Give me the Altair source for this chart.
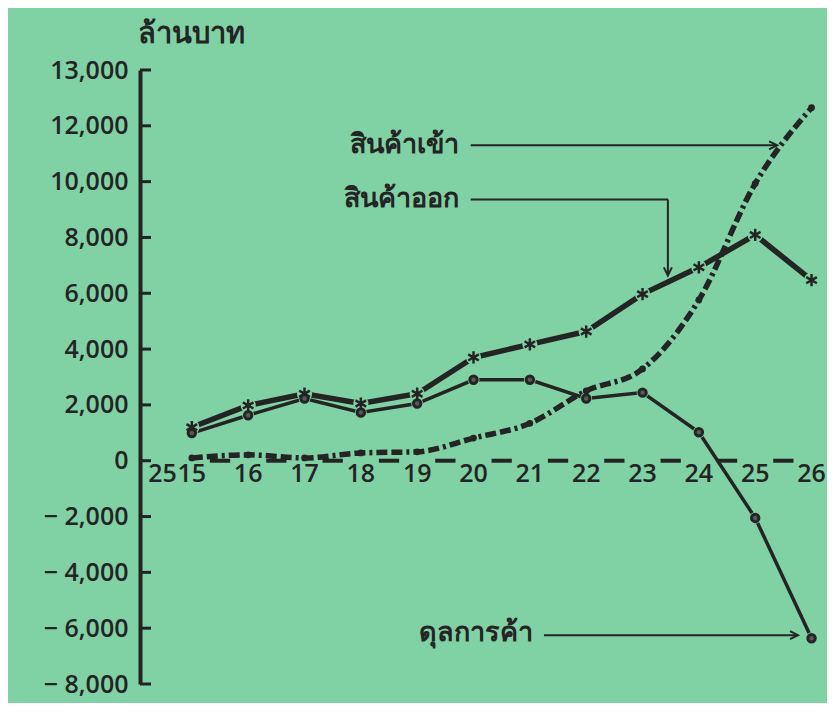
import altair as alt
import pandas as pd

# ---- data (million baht) ----
years = [2515, 2516, 2517, 2518, 2519, 2520, 2521, 2522, 2523, 2524, 2525, 2526]
year_labels = ["15", "16", "17", "18", "19", "20", "21", "22", "23", "24", "25", "26"]
exports = [1200, 1980, 2400, 2050, 2400, 3700, 4170, 4630, 5970, 6930, 8090, 6470]
imports = [100, 210, 100, 280, 320, 810, 1340, 2500, 3290, 5760, 9930, 12650]
balance = [990, 1630, 2230, 1730, 2050, 2900, 2900, 2230, 2440, 1020, -2050, -6360]

y_ticks = [14000, 12000, 10000, 8000, 6000, 4000, 2000, 0, -2000, -4000, -6000, -8000]
y_tick_labels = ["13,000", "12,000", "10,000", "8,000", "6,000", "4,000", "2,000", "0",
                 "\u2212 2,000", "\u2212 4,000", "\u2212 6,000", "\u2212 8,000"]

# annotations
ann_text = ["สินค้าเข้า", "สินค้าออก", "ดุลการค้า"]
ann_text_x = [2519.75, 2519.75, 2521.05]
ann_text_y = [11300, 9360, -6180]
ann_line_x1 = [2519.95, 2519.95, 2521.25, 2523.45]
ann_line_x2 = [2525.39, 2523.45, 2525.76, 2523.45]
ann_line_y1 = [11300, 9360, -6250, 9360]
ann_line_y2 = [11300, 9360, -6250, 6640]
arrow_right_x = [2525.39, 2525.76]
arrow_right_y = [11300, -6250]
arrow_down_x = [2523.45]
arrow_down_y = [6640]

BG = "#80d2a5"
INK = "#242424"
NUM_FONT = "Open Sans"
THAI_FONT = "Noto Sans"

df = pd.DataFrame({"year": years, "lab": year_labels, "exports": exports,
                   "imports": imports, "balance": balance})
df["zero"] = 0
dash_df = pd.DataFrame({"x1": [y + 0.32 for y in years[:-1]],
                        "x2": [y + 0.68 for y in years[:-1]]})
dash_df["zero"] = 0
tick_df = pd.DataFrame({"v": y_ticks})
text_df = pd.DataFrame({"t": ann_text, "x": ann_text_x, "y": ann_text_y})
line_df = pd.DataFrame({"x1": ann_line_x1, "x2": ann_line_x2, "y1": ann_line_y1, "y2": ann_line_y2})
ar_df = pd.DataFrame({"x": arrow_right_x, "y": arrow_right_y})
ad_df = pd.DataFrame({"x": arrow_down_x, "y": arrow_down_y})

xs = alt.Scale(domain=[2514.08, 2526.15], nice=False, zero=False)
ys = alt.Scale(domain=[-8000, 14000], nice=False, zero=False)

expr = "''"
for v, l in zip(reversed(y_ticks), reversed(y_tick_labels)):
    expr = f"datum.value == {v} ? '{l}' : ({expr})"

yaxis = alt.Axis(values=y_ticks, labelExpr=expr, ticks=False, grid=False,
                 domainWidth=4, domainColor=INK, labelFont=NUM_FONT, labelFontSize=25,
                 labelFontWeight=600, labelColor=INK, labelPadding=12, labelFlush=False,
                 labelOverlap=False, title="ล้านบาท", titleAngle=0, titleX=-3, titleY=-37,
                 titleAlign="left", titleBaseline="middle", titleFont=THAI_FONT,
                 titleFontSize=29, titleFontWeight="bold", titleColor=INK)


def X(f):
    return alt.X(f, scale=xs, axis=None)


def Y(f):
    return alt.Y(f, scale=ys, axis=yaxis)


zero_dash = alt.Chart(dash_df).mark_rule(strokeWidth=4, color=INK).encode(
    x=X("x1:Q"), x2="x2:Q", y=Y("zero:Q"))

ticks = alt.Chart(tick_df).mark_rule(strokeWidth=3, color=INK).encode(
    y=Y("v:Q"), x=alt.value(0), x2=alt.value(11))

xlabels = alt.Chart(df).mark_text(dy=13, font=NUM_FONT, fontSize=25, fontWeight=600,
                                  color=INK).encode(x=X("year:Q"), y=Y("zero:Q"), text="lab:N")
prefix = alt.Chart(df).transform_filter("datum.year == 2515").mark_text(
    dy=13, dx=-15, align="right", font=NUM_FONT, fontSize=25, fontWeight=600, color=INK
).encode(x=X("year:Q"), y=Y("zero:Q"), text=alt.value("25"))

imp_line = alt.Chart(df).mark_line(interpolate="monotone", strokeWidth=5.5, color=INK,
                                   strokeDash=[11, 4, 11, 4, 3, 4]).encode(
    x=X("year:Q"), y=Y("imports:Q"))
exp_line = alt.Chart(df).mark_line(strokeWidth=5.5, color=INK).encode(
    x=X("year:Q"), y=Y("exports:Q"))
bal_line = alt.Chart(df).mark_line(strokeWidth=3.5, color=INK).encode(
    x=X("year:Q"), y=Y("balance:Q"))

exp_halo = alt.Chart(df).mark_point(filled=True, color=BG, opacity=1, size=230).encode(
    x=X("year:Q"), y=Y("exports:Q"))
bal_halo = alt.Chart(df).mark_point(filled=True, color=BG, opacity=1, size=140).encode(
    x=X("year:Q"), y=Y("balance:Q"))

imp_pts = alt.Chart(df).mark_point(filled=True, color=INK, opacity=1, size=45).encode(
    x=X("year:Q"), y=Y("imports:Q"))
ASTER = "M 0 -1 L 0 1 M -0.87 -0.5 L 0.87 0.5 M -0.87 0.5 L 0.87 -0.5"
exp_pts = alt.Chart(df).mark_point(shape=ASTER, filled=False, color=INK, opacity=1,
                                   strokeWidth=2.5, size=150).encode(
    x=X("year:Q"), y=Y("exports:Q"))
bal_pts = alt.Chart(df).mark_point(shape="circle", filled=False, stroke=INK, fill="#5a5a5a",
                                   fillOpacity=1, opacity=1, strokeWidth=3, size=55).encode(
    x=X("year:Q"), y=Y("balance:Q"))

ann_lines = alt.Chart(line_df).mark_rule(strokeWidth=2, color=INK).encode(
    x=X("x1:Q"), x2="x2:Q", y=Y("y1:Q"), y2="y2:Q")
arr_r = alt.Chart(ar_df).mark_point(shape="M -1 -0.5 L 0 0 L -1 0.5", filled=False,
                                    color=INK, opacity=1, strokeWidth=2, size=260).encode(
    x=X("x:Q"), y=Y("y:Q"))
arr_d = alt.Chart(ad_df).mark_point(shape="M -0.5 -1 L 0 0 L 0.5 -1", filled=False,
                                    color=INK, opacity=1, strokeWidth=2, size=260).encode(
    x=X("x:Q"), y=Y("y:Q"))
ann_texts = alt.Chart(text_df).mark_text(align="right", baseline="middle", font=THAI_FONT,
                                         fontSize=27, fontWeight="bold", color=INK).encode(
    x=X("x:Q"), y=Y("y:Q"), text="t:N")

chart = alt.layer(
    zero_dash, ticks, xlabels, prefix, imp_line, exp_line, bal_line,
    exp_halo, bal_halo, imp_pts, exp_pts, bal_pts, ann_lines, arr_r, arr_d, ann_texts
).properties(
    width=680, height=614,
    autosize=alt.AutoSizeParams(type="none"),
    padding={"left": 132, "top": 62, "right": 7, "bottom": 19},
    background=BG,
).configure_view(stroke=None)

chart.save("out.html", embed_options={"renderer": "svg", "actions": False})
